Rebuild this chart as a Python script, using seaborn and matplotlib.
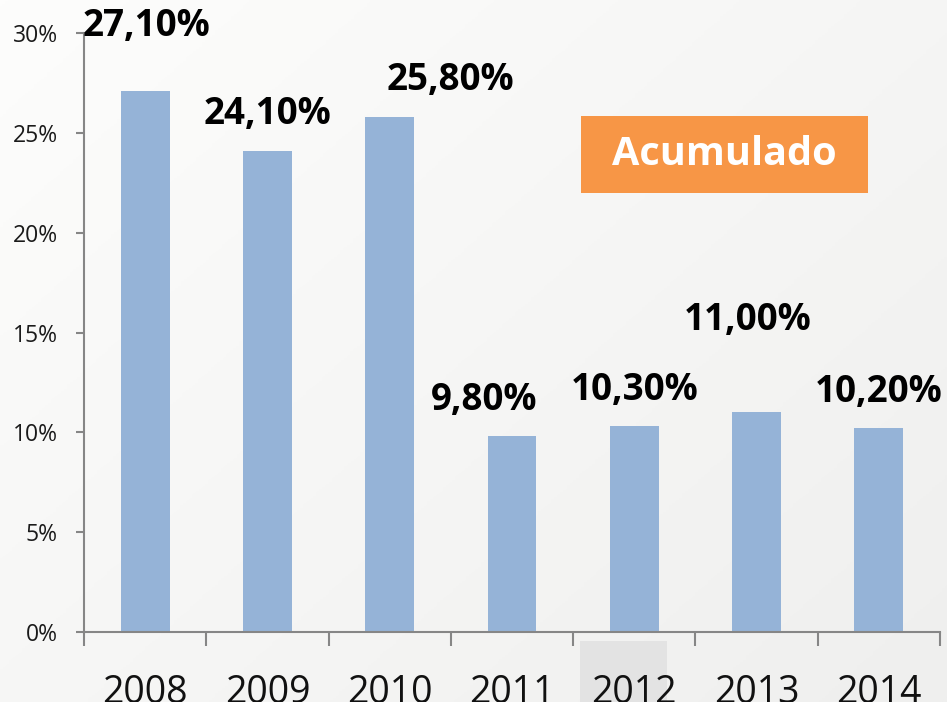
import numpy as np
import pandas as pd
import matplotlib
matplotlib.use("Agg")
import matplotlib.pyplot as plt
import seaborn as sns
from matplotlib.patches import Rectangle

years = ["2008", "2009", "2010", "2011", "2012", "2013", "2014"]
values = [27.1, 24.1, 25.8, 9.8, 10.3, 11.0, 10.2]
value_labels = ["27,10%", "24,10%", "25,80%", "9,80%", "10,30%", "11,00%", "10,20%"]
y_ticks = [0, 5, 10, 15, 20, 25, 30]
badge_text = "Acumulado"

# label offsets in pixels (placement only)
label_dx = [1, 0, 61, -28, 0, -9, 0]
label_dy = [65, 37, 37, 36, 36, 92, 36]

sns.set_theme(style="white")
plt.rcParams['font.family'] = ['Open Sans', 'DejaVu Sans']

fig = plt.figure(figsize=(9.47, 7.02), dpi=100)

# background gradient
bg = fig.add_axes([0, 0, 1, 1], zorder=-10)
xx, yy = np.meshgrid(np.linspace(0, 1, 300), np.linspace(0, 1, 300))
grad = 0.55 * xx + 0.45 * yy
bg.imshow(grad, cmap=matplotlib.colors.LinearSegmentedColormap.from_list(
    "g", ["#fdfdfc", "#efefee"]), aspect="auto", extent=[0, 1, 0, 1], origin="upper")
bg.set_axis_off()

# gray box behind 2012 label
fig.patches.append(Rectangle((580 / 947, 0), 87 / 947, 61 / 702, transform=fig.transFigure,
                             facecolor="#e3e3e3", edgecolor="none", zorder=-5))

ax = fig.add_axes([84 / 947, 1 - 632 / 702, (940 - 84) / 947, (632 - 33) / 702])
ax.set_facecolor("none")

df = pd.DataFrame({"year": years, "value": values})
sns.barplot(data=df, x="year", y="value", color="#95B3D7", saturation=1, width=0.4,
            linewidth=0, edgecolor="none", ax=ax)

ax.set_xlim(-0.5, 6.5)
ax.set_ylim(0, 30)
ax.set_yticks(y_ticks)
ax.set_yticklabels([f"{v}%" for v in y_ticks], fontsize=16.5, color="#1a1a1a")
ax.set_xlabel("")
ax.set_ylabel("")

for s in ["top", "right"]:
    ax.spines[s].set_visible(False)
for s in ["left", "bottom"]:
    ax.spines[s].set_color("#868686")
    ax.spines[s].set_linewidth(1.5)

ax.tick_params(axis="y", direction="out", length=6, width=1.5, color="#868686", left=True, pad=13)
ax.set_xticks(np.arange(-0.5, 7, 1), minor=True)
ax.tick_params(axis="x", which="minor", direction="out", length=10, width=1.5, color="#868686", bottom=True)
ax.tick_params(axis="x", which="major", length=0, pad=30, labelsize=27, labelcolor="#111111")

for i, (v, lab) in enumerate(zip(values, value_labels)):
    ax.annotate(lab, xy=(i, v), xytext=(label_dx[i], label_dy[i]), textcoords="offset pixels",
                ha="center", va="center", fontsize=26.5, fontweight="bold", color="black",
                annotation_clip=False)

# badge
fig.patches.append(Rectangle((581 / 947, 1 - 193 / 702), 287 / 947, 77 / 702,
                             transform=fig.transFigure, facecolor="#F79646", edgecolor="none"))
fig.text((581 + 287 / 2) / 947, 1 - (116 + 77 / 2) / 702, badge_text, ha="center", va="center",
         fontsize=28.5, fontweight="bold", color="white")

fig.savefig("out.png", dpi=100)
